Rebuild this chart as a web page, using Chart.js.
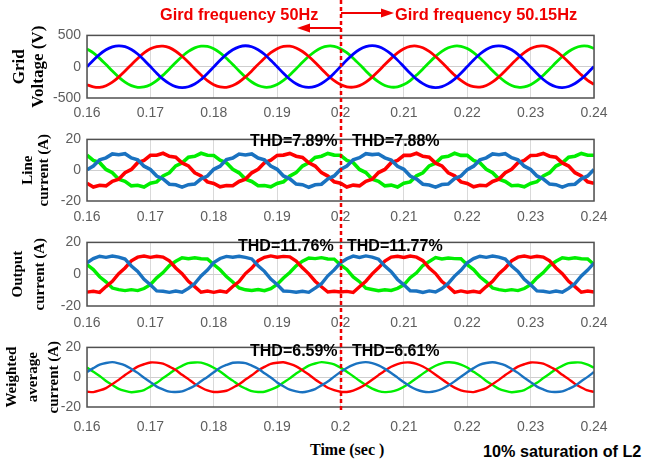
<!DOCTYPE html>
<html><head><meta charset="utf-8">
<script src="https://cdn.jsdelivr.net/npm/chart.js@4/dist/chart.umd.min.js"></script>
<style>
html,body{margin:0;padding:0;background:#fff;}
#wrap{position:relative;width:646px;height:464px;overflow:hidden;background:#fff;}
.pane{position:absolute;left:0;width:646px;}
.txt{position:absolute;white-space:nowrap;line-height:1;}
.sans{font-family:"Liberation Sans",Arial,sans-serif;font-weight:bold;}
.serif{font-family:"Liberation Serif","Times New Roman",serif;font-weight:bold;}
#ov{position:absolute;left:0;top:0;z-index:10;pointer-events:none;}
</style></head><body>
<div id="wrap">
<div class="pane" style="top:21px;height:107px"><canvas id="c1" width="646" height="107"></canvas></div>
<div class="pane" style="top:125px;height:106px"><canvas id="c2" width="646" height="106"></canvas></div>
<div class="pane" style="top:228px;height:108px"><canvas id="c3" width="646" height="108"></canvas></div>
<div class="pane" style="top:333px;height:104px"><canvas id="c4" width="646" height="104"></canvas></div>
<canvas id="ov" width="646" height="464"></canvas>
<div class="txt sans" style="left:160px;top:6px;font-size:16.3px;color:#f00000">Gird frequency 50Hz</div>
<div class="txt sans" style="left:395px;top:6px;font-size:16.4px;color:#f00000">Gird frequency 50.15Hz</div>
<div class="txt sans" style="left:250px;top:133px;font-size:16px;color:#000">THD=7.89%</div>
<div class="txt sans" style="left:352px;top:133px;font-size:16px;color:#000">THD=7.88%</div>
<div class="txt sans" style="left:238px;top:238px;font-size:16px;color:#000">THD=11.76%</div>
<div class="txt sans" style="left:347px;top:238px;font-size:16px;color:#000">THD=11.77%</div>
<div class="txt sans" style="left:250px;top:343px;font-size:16px;color:#000">THD=6.59%</div>
<div class="txt sans" style="left:352px;top:343px;font-size:16px;color:#000">THD=6.61%</div>
<div class="txt serif" style="left:310px;top:442px;font-size:16px;color:#000">Time (sec )</div>
<div class="txt sans" style="left:483px;top:443px;font-size:16.2px;color:#000">10% saturation of L2</div>
</div>
<script>
// time grid (s)
const T_START = 0.16, T_STEP = 0.001, N_PTS = 81;
const timeSec = Array.from({length: N_PTS}, (_, i) => +(T_START + i * T_STEP).toFixed(4));
const xTicks = [0.16, 0.17, 0.18, 0.19, 0.2, 0.21, 0.22, 0.23, 0.24];
const switchTime = 0.2;

// Panel 1: Grid voltage (V)
const gridVa = [0,104,198,270,316,333,320,274,203,108,2,-103,-198,-270,-318,-334,-320,-275,-204,-108,
 -3,102,197,271,318,335,319,272,199,103,-1,-106,-201,-273,-316,-330,-315,-269,-197,-103,
 1,106,202,274,320,336,320,273,201,105,0,-104,-199,-271,-319,-333,-317,-271,-199,-104,
 2,107,203,275,321,334,318,270,197,101,-4,-109,-204,-276,-320,-333,-316,-268,-195,-100, 4];
const gridVb = [-288,-322,-330,-304,-247,-167,-70,33,132,220,285,322,329,304,247,166,70,-34,-133,-222,
 -287,-324,-329,-301,-244,-163,-67,37,136,223,288,324,327,300,243,163,67,-37,-136,-223,
 -285,-321,-327,-303,-246,-166,-70,34,133,221,287,325,330,303,244,164,68,-36,-135,-220,
 -284,-320,-326,-300,-243,-162,-65,39,138,224,289,326,331,305,248,168,72,-32,-131,-218, -283];
const gridVc = [285,220,133,34,-70,-166,-246,-303,-329,-324,-287,-222,-135,-36,68,164,244,301,327,324,
 287,222,135,36,-68,-164,-244,-301,-327,-322,-285,-220,-133,-34,70,166,246,303,329,325,
 288,223,136,37,-67,-163,-243,-300,-326,-322,-286,-221,-134,-35,69,165,245,302,330,326,
 289,225,138,39,-65,-161,-241,-299,-326,-324,-288,-224,-137,-38,66,162,243,300,329,327, 291];

// Panel 2: Line current (A)
const lineIa = [0.3,2.7,6.8,8.0,10.6,10.0,10.7,8.0,6.8,2.6,0.5,-3.8,-5.7,-9.1,-9.5,-11.0,-9.4,-9.0,-5.6,-3.8,
 0.6,2.6,6.9,7.9,10.5,9.9,10.6,7.9,6.7,2.7,0.6,-3.7,-5.6,-9.0,-9.4,-11.1,-9.5,-9.1,-5.7,-3.7,
 0.5,2.7,6.8,8.1,10.7,10.1,10.5,8.0,6.6,2.5,0.6,-3.8,-5.8,-9.1,-9.6,-11.0,-9.3,-9.0,-5.5,-3.8,
 0.4,2.6,6.7,8.0,10.6,10.0,10.7,8.1,6.8,2.6,0.5,-3.7,-5.7,-9.0,-9.4,-11.0,-9.4,-9.1,-5.6,-3.7, 0.5];
const lineIb = [-8.5,-10.9,-9.8,-10.2,-7.2,-5.9,-1.6,0.5,4.9,6.4,9.7,9.7,11.0,9.0,8.4,4.7,2.8,-1.7,-3.7,-7.6,
 -8.6,-10.8,-9.9,-10.1,-7.3,-5.8,-1.7,0.6,4.8,6.5,9.6,9.8,10.9,9.1,8.3,4.8,2.7,-1.6,-3.8,-7.5,
 -8.5,-10.9,-9.7,-10.2,-7.2,-5.9,-1.5,0.5,4.9,6.3,9.7,9.6,11.0,9.0,8.5,4.6,2.8,-1.7,-3.6,-7.6,
 -8.6,-10.8,-9.8,-10.1,-7.3,-5.8,-1.6,0.6,4.8,6.4,9.6,9.7,10.9,9.1,8.4,4.7,2.7,-1.6,-3.7,-7.5, -8.5];
const lineIc = [9.7,6.4,4.9,0.5,-1.6,-5.9,-7.2,-10.2,-9.8,-10.9,-8.5,-7.6,-3.7,-1.7,2.8,4.7,8.4,9.0,11.0,9.7,
 9.6,6.5,4.8,0.6,-1.7,-5.8,-7.3,-10.1,-9.9,-10.8,-8.6,-7.5,-3.8,-1.6,2.7,4.8,8.3,9.1,10.9,9.8,
 9.7,6.3,4.9,0.5,-1.5,-5.9,-7.2,-10.2,-9.7,-10.9,-8.5,-7.6,-3.6,-1.7,2.8,4.6,8.5,9.0,11.0,9.6,
 9.6,6.4,4.8,0.6,-1.6,-5.8,-7.3,-10.1,-9.8,-10.8,-8.6,-7.5,-3.7,-1.6,2.7,4.7,8.4,9.1,10.9,9.7, 9.7];

// Panel 3: Output current (A)
const outIa = [7.2,9.8,11.3,10.6,11.4,10.7,9.5,5.2,1.7,-3.2,-6.6,-10.5,-10.7,-11.4,-10.6,-11.3,-8.9,-5.9,-1.1,2.6,
 7.3,9.9,11.2,10.7,11.3,10.6,9.6,5.3,1.8,-3.1,-6.5,-10.6,-10.8,-11.3,-10.7,-11.4,-8.8,-6.0,-1.0,2.7,
 7.1,9.7,11.4,10.5,11.5,10.8,9.4,5.1,1.6,-3.3,-6.7,-10.4,-10.6,-11.5,-10.5,-11.2,-9.0,-5.8,-1.2,2.5,
 7.2,9.8,11.3,10.6,11.4,10.7,9.5,5.2,1.7,-3.2,-6.6,-10.5,-10.7,-11.4,-10.6,-11.3,-8.9,-5.9,-1.1,2.6, 7.0];
const outIb = [-11.3,-10.7,-11.4,-7.8,-4.5,0.3,3.9,8.4,10.7,11.4,10.6,11.3,10.8,8.4,3.9,0.3,-4.5,-7.8,-11.3,-10.6,
 -11.4,-10.6,-11.3,-7.7,-4.6,0.4,3.8,8.5,10.6,11.5,10.7,11.2,10.9,8.3,4.0,0.2,-4.4,-7.9,-11.2,-10.7,
 -11.2,-10.8,-11.5,-7.9,-4.4,0.2,4.0,8.3,10.8,11.3,10.5,11.4,10.7,8.5,3.8,0.4,-4.6,-7.7,-11.4,-10.5,
 -11.3,-10.7,-11.4,-7.8,-4.5,0.3,3.9,8.4,10.7,11.4,10.6,11.3,10.8,8.4,3.9,0.3,-4.5,-7.8,-11.3,-10.6, -11.2];
const outIc = [6.0,2.9,-1.6,-4.8,-8.7,-9.7,-10.3,-9.7,-10.3,-9.0,-6.6,-2.3,1.0,5.4,8.1,10.3,9.7,10.3,9.7,9.6,
 6.1,2.8,-1.5,-4.9,-8.6,-9.8,-10.2,-9.6,-10.4,-9.1,-6.5,-2.4,1.1,5.3,8.2,10.2,9.8,10.4,9.6,9.5,
 5.9,3.0,-1.7,-4.7,-8.8,-9.6,-10.4,-9.8,-10.2,-8.9,-6.7,-2.2,0.9,5.5,8.0,10.4,9.6,10.2,9.8,9.7,
 6.0,2.9,-1.6,-4.8,-8.7,-9.7,-10.3,-9.7,-10.3,-9.0,-6.6,-2.3,1.0,5.4,8.1,10.3,9.7,10.3,9.7,9.6, 6.1];

// Panel 4: Weighted average current (A)
const wavIa = [3.5,6.1,8.4,9.5,10.1,9.3,8.0,5.5,2.9,-0.4,-3.3,-6.3,-8.2,-9.7,-9.9,-9.5,-7.8,-5.7,-2.7,0.2,
 3.3,6.3,8.2,9.7,9.9,9.5,7.8,5.7,2.7,-0.2,-3.5,-6.1,-8.4,-9.5,-10.1,-9.3,-8.0,-5.5,-2.9,0.4,
 3.5,6.2,8.3,9.6,10.1,9.4,7.9,5.6,2.8,-0.3,-3.4,-6.2,-8.3,-9.6,-10.0,-9.4,-7.9,-5.6,-2.8,0.3,
 3.4,6.1,8.4,9.5,10.0,9.3,8.0,5.5,2.9,-0.4,-3.3,-6.3,-8.2,-9.7,-9.9,-9.5,-7.8,-5.7,-2.7,0.2, 3.5];
const wavIb = [-9.7,-10.0,-8.9,-7.3,-4.6,-1.8,1.5,4.3,7.1,8.7,9.9,9.8,9.1,7.1,4.8,1.6,-1.3,-4.5,-6.9,-8.9,
 -9.9,-9.8,-9.1,-7.1,-4.8,-1.6,1.3,4.5,6.9,8.9,9.7,10.0,8.9,7.3,4.6,1.8,-1.5,-4.3,-7.1,-8.7,
 -9.8,-9.9,-9.0,-7.2,-4.7,-1.7,1.4,4.4,7.0,8.8,9.8,9.9,9.0,7.2,4.7,1.7,-1.4,-4.4,-7.0,-8.8,
 -9.7,-10.0,-8.9,-7.3,-4.6,-1.8,1.5,4.3,7.1,8.7,9.9,9.8,9.1,7.1,4.8,1.6,-1.3,-4.5,-6.9,-8.9, -9.8];
const wavIc = [6.5,3.6,0.8,-2.5,-5.2,-7.8,-9.2,-10.1,-9.6,-8.6,-6.3,-3.8,-0.6,2.3,5.4,7.6,9.4,9.9,9.8,8.4,
 6.3,3.8,0.6,-2.3,-5.4,-7.6,-9.4,-9.9,-9.8,-8.4,-6.5,-3.6,-0.8,2.5,5.2,7.8,9.2,10.1,9.6,8.6,
 6.4,3.7,0.7,-2.4,-5.3,-7.7,-9.3,-10.0,-9.7,-8.5,-6.4,-3.7,-0.7,2.4,5.3,7.7,9.3,10.0,9.7,8.5,
 6.5,3.6,0.8,-2.5,-5.2,-7.8,-9.2,-10.1,-9.6,-8.6,-6.3,-3.8,-0.6,2.3,5.4,7.6,9.4,9.9,9.8,8.4, 6.4];

const yLimV = [-500, 500], yStepV = 500;
const yLimI = [-20, 20], yStepI = 20;

const SANS = '"Liberation Sans", Arial, sans-serif';
const SERIF = '"Liberation Serif", "Times New Roman", serif';

const framePlugin = {
  id: 'frame',
  afterDatasetsDraw(chart) {
    const {ctx, chartArea: a} = chart;
    ctx.save();
    ctx.strokeStyle = '#505050';
    ctx.lineWidth = 1.5;
    ctx.strokeRect(a.left, a.top, a.right - a.left, a.bottom - a.top);
    ctx.restore();
  }
};

function mk(id, series, colors, widths, tension, ylim, ystep, title, tfont, tlh, tpad, xpad) {
  const datasets = series.map((s, i) => ({
    data: s.map((v, k) => ({x: timeSec[k], y: v})),
    borderColor: colors[i], borderWidth: widths, pointRadius: 0, tension: tension, fill: false
  }));
  return new Chart(document.getElementById(id), {
    type: 'line',
    data: {datasets},
    plugins: [framePlugin],
    options: {
      responsive: false, animation: false, devicePixelRatio: 1,
      layout: {padding: {top: 12, bottom: 0, left: 0, right: 52}},
      plugins: {legend: {display: false}, tooltip: {enabled: false}},
      scales: {
        x: {
          type: 'linear', min: xTicks[0], max: xTicks[xTicks.length - 1],
          afterBuildTicks: s => { s.ticks = xTicks.map(v => ({value: v})); },
          ticks: {callback: v => String(parseFloat(Number(v).toFixed(2))), font: {family: SANS, size: 14}, color: '#5e5e5e', padding: xpad, maxRotation: 0, autoSkip: false},
          grid: {color: '#d9d9d9', drawTicks: false, lineWidth: 1},
          border: {display: false},
          afterFit: s => { s.height = 30; }
        },
        y: {
          min: ylim[0], max: ylim[1],
          ticks: {stepSize: ystep, font: {family: SANS, size: 14}, color: '#5e5e5e', padding: 6},
          grid: {color: c => (c.tick && c.tick.value === 0) ? '#cfcfcf' : 'rgba(0,0,0,0)', drawTicks: false},
          border: {display: false},
          title: {display: true, text: title, color: '#000', font: {family: SERIF, size: tfont, weight: 'bold', lineHeight: tlh + 'px'}, padding: {top: tpad, bottom: 0}},
          afterFit: s => { s.width = 87; }
        }
      }
    }
  });
}

const c1 = mk('c1', [gridVa, gridVb, gridVc], ['#0000ff', '#ff0000', '#00ee00'], 2.8, 0.25, yLimV, yStepV, ['Grid', 'Voltage (V)'], 17, 19, 10, 7);
const c2 = mk('c2', [lineIa, lineIb, lineIc], ['#1a72c0', '#ff0000', '#00ee00'], 3.6, 0, yLimI, yStepI, ['Line', 'current (A)'], 15, 16, 20, 8);
const c3 = mk('c3', [outIa, outIb, outIc], ['#1a72c0', '#ff0000', '#00ee00'], 3.4, 0, yLimI, yStepI, ['Output', 'current (A)'], 15, 22, 7, 9);
const c4 = mk('c4', [wavIa, wavIb, wavIc], ['#1a72c0', '#ff0000', '#00ee00'], 2.4, 0.25, yLimI, yStepI, ['Weighted', 'average', 'current (A)'], 15, 21, 2, 12);

// overlay: dotted switching line and arrows
const ov = document.getElementById('ov').getContext('2d');
const xs = Math.round(c1.scales.x.getPixelForValue(switchTime));
ov.strokeStyle = '#f00000';
ov.fillStyle = '#f00000';
ov.lineWidth = 2.5;
ov.setLineDash([4, 3]);
ov.beginPath(); ov.moveTo(xs, 0); ov.lineTo(xs, 411); ov.stroke();
ov.setLineDash([]);
ov.lineWidth = 2;
// left arrow (50Hz)
ov.beginPath(); ov.moveTo(xs, 28); ov.lineTo(306, 28); ov.stroke();
ov.beginPath(); ov.moveTo(297, 28); ov.lineTo(310, 23.5); ov.lineTo(310, 32.5); ov.closePath(); ov.fill();
// right arrow (50.15Hz)
ov.beginPath(); ov.moveTo(xs, 13); ov.lineTo(384, 13); ov.stroke();
ov.beginPath(); ov.moveTo(394, 13); ov.lineTo(381, 8.5); ov.lineTo(381, 17.5); ov.closePath(); ov.fill();
</script>
</body></html>
